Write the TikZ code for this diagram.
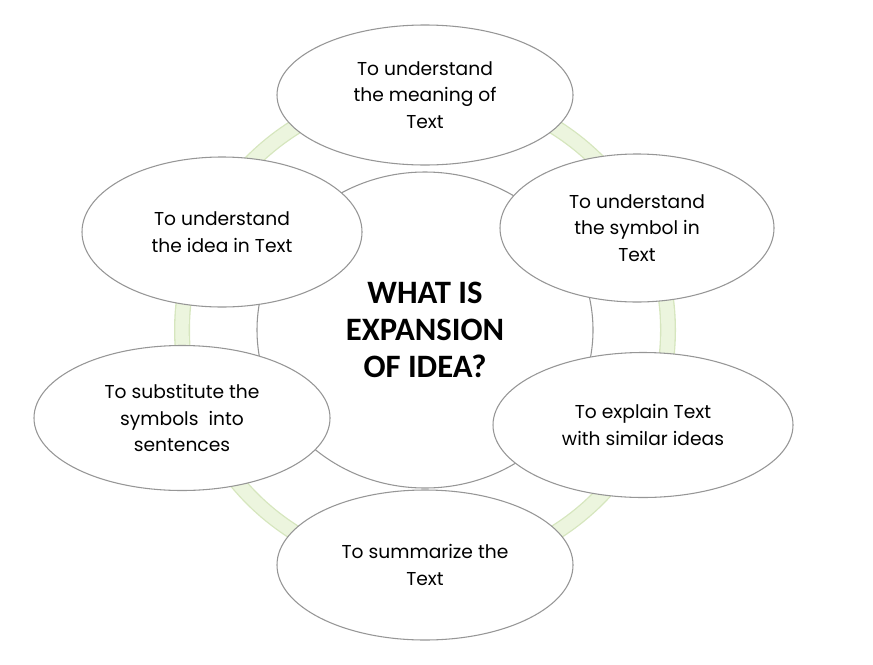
\documentclass[tikz,border=0pt]{standalone}
\usepackage{fontspec}
\setmainfont{Carlito}
\newfontfamily\gothic{Poppins}
\usetikzlibrary{shapes.geometric}
\definecolor{ringedge}{RGB}{214,230,190}
\definecolor{ringfill}{RGB}{236,245,222}
\definecolor{ovaledge}{RGB}{150,150,150}

\begin{document}
\begin{tikzpicture}[
    x=0.75pt, y=-0.75pt,
    idea/.style={ellipse, draw=ovaledge, fill=white, line width=0.8pt, inner sep=0pt,
                 align=center, font=\gothic\fontsize{14}{20}\selectfont},
    hub/.style={ellipse, draw=ovaledge, fill=white, line width=0.8pt, inner sep=0pt,
                align=center, font=\fontsize{24.5}{28}\selectfont\bfseries}
]
   \useasboundingbox (0,0) rectangle (873,664);

   % Ring
   \draw[ringedge, line width=12pt] (425,330) ellipse (243 and 240);
   \draw[ringfill, line width=10pt] (425,330) ellipse (243 and 240);

   % Centre
   \node[hub, minimum width=336*0.75pt, minimum height=316*0.75pt] (centre) at (425,330)
        {WHAT IS\\EXPANSION\\OF IDEA?};

   % Ideas
   \node[idea, minimum width=296*0.75pt, minimum height=140*0.75pt] (meaning) at (425,95)
        {To understand\\the meaning of\\Text};
   \node[idea, minimum width=274*0.75pt, minimum height=148*0.75pt] (symbol) at (637,228)
        {To understand\\the symbol in\\Text};
   \node[idea, minimum width=300*0.75pt, minimum height=145*0.75pt] (explain) at (643,425)
        {To explain Text\\with similar ideas};
   \node[idea, minimum width=296*0.75pt, minimum height=150*0.75pt] (summary) at (425,565)
        {To summarize the\\Text};
   \node[idea, minimum width=296*0.75pt, minimum height=145*0.75pt] (substitute) at (182,418)
        {To substitute the\\symbols\ \ into\\sentences};
   \node[idea, minimum width=280*0.75pt, minimum height=150*0.75pt] (idea) at (222,232)
        {To understand\\the idea in Text};
\end{tikzpicture}
\end{document}
